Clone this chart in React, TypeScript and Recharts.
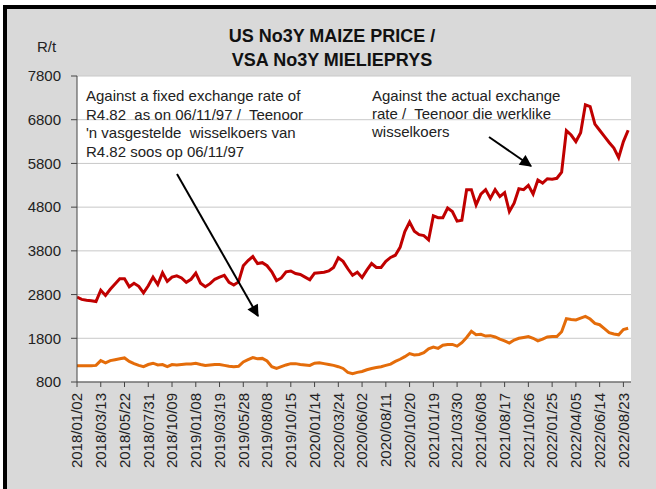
import { CartesianGrid, Line, LineChart, XAxis, YAxis } from 'recharts';

// tick labels on the date axis, one every 5 points
const dateLabels = [
  '2018/01/02', '2018/03/13', '2018/05/22', '2018/07/31', '2018/10/09', '2019/01/08',
  '2019/03/19', '2019/05/28', '2019/08/08', '2019/10/15', '2020/01/14', '2020/03/24',
  '2020/06/02', '2020/08/11', '2020/10/20', '2021/01/19', '2021/03/30', '2021/06/08',
  '2021/08/17', '2021/10/26', '2022/01/25', '2022/04/05', '2022/06/14', '2022/08/23',
];

const priceTicks = [800, 1800, 2800, 3800, 4800, 5800, 6800, 7800];

// R/t against the actual exchange rate
const actualRate = [
  2740, 2690, 2670, 2660, 2640, 2900, 2780, 2920, 3040, 3160,
  3160, 2980, 3060, 2990, 2840, 3000, 3200, 3030, 3300, 3100,
  3200, 3230, 3180, 3080, 3150, 3290, 3060, 2980, 3050, 3150,
  3200, 3240, 3080, 3020, 3090, 3460, 3580, 3670, 3510, 3530,
  3460, 3320, 3120, 3180, 3320, 3340, 3280, 3260, 3200, 3140,
  3290, 3300, 3310, 3340, 3420, 3640, 3560, 3390, 3240, 3310,
  3190, 3360, 3510, 3420, 3420, 3560, 3650, 3700, 3880, 4240,
  4460, 4250, 4170, 4150, 4050, 4600, 4560, 4560, 4780, 4700,
  4480, 4500, 5200, 5200, 4850, 5100, 5200, 5000, 5200, 5040,
  5130, 4700, 4890, 5220, 5200, 5300, 5100, 5420, 5350, 5450,
  5440, 5460, 5600, 6550, 6450, 6300, 6500, 7140, 7100, 6700,
  6560, 6420, 6280, 6150, 5930, 6300, 6560,
];

// R/t against the fixed R4.82 exchange rate
const fixedRate = [
  1170, 1170, 1170, 1170, 1180, 1290, 1240, 1290, 1310, 1330,
  1350, 1270, 1220, 1180, 1150, 1200, 1230, 1190, 1200, 1150,
  1200, 1190, 1200, 1210, 1210, 1230, 1200, 1180, 1190, 1200,
  1200, 1180, 1160, 1150, 1160, 1260, 1310, 1360, 1330, 1340,
  1280, 1150, 1110, 1150, 1190, 1220, 1220, 1200, 1190, 1180,
  1230, 1240, 1220, 1200, 1180, 1150, 1110, 1020, 990, 1020,
  1040, 1080, 1110, 1130, 1150, 1180, 1210, 1270, 1320, 1380,
  1450, 1420, 1430, 1470, 1560, 1600, 1570, 1640, 1660, 1660,
  1620, 1700, 1820, 1960, 1880, 1890, 1850, 1860, 1830, 1780,
  1740, 1690, 1760, 1800, 1820, 1840, 1800, 1740, 1780, 1830,
  1840, 1840, 1950, 2250, 2230, 2220, 2260, 2300, 2240, 2140,
  2110, 2020, 1930, 1900, 1880, 2000, 2030,
];

const data = actualRate.map((v, i) => ({ week: i, actual: v, fixed: fixedRate[i] }));
const xTicks = dateLabels.map((_, k) => k * 5);

const font = '"Liberation Sans", Arial, sans-serif';

function DateTick({ x, y, payload }: any) {
  return (
    <text
      x={x}
      y={y}
      transform={`rotate(-90 ${x} ${y})`}
      textAnchor="end"
      dy="0.35em"
      fontSize={15}
      fill="#222"
      fontFamily={font}
    >
      {dateLabels[payload.value / 5]}
    </text>
  );
}

function Notes() {
  const txt = { fontSize: 15, fill: '#222', fontFamily: font };
  return (
    <svg width={656} height={489} style={{ position: 'absolute', left: 0, top: 0, pointerEvents: 'none' }}>
      <defs>
        <marker id="head" viewBox="0 0 10 10" refX="9" refY="5" markerWidth="7" markerHeight="6" orient="auto">
          <path d="M0,0 L10,5 L0,10 z" fill="#000" />
        </marker>
      </defs>
      <text x={332} y={42} textAnchor="middle" fontSize={18} fontWeight="bold" fill="#111" fontFamily={font}>
        US No3Y MAIZE PRICE /
      </text>
      <text x={332} y={66} textAnchor="middle" fontSize={18} fontWeight="bold" fill="#111" fontFamily={font}>
        VSA No3Y MIELIEPRYS
      </text>
      <text x={37} y={52} fontSize={15} fill="#222" fontFamily={font}>R/t</text>
      <text {...txt} x={86} y={101}>Against a fixed exchange rate of</text>
      <text {...txt} x={86} y={120} style={{ whiteSpace: 'pre' }}>R4.82  as on 06/11/97 /  Teenoor</text>
      <text {...txt} x={86} y={138} style={{ whiteSpace: 'pre' }}>'n vasgestelde  wisselkoers van</text>
      <text {...txt} x={86} y={157}>R4.82 soos op 06/11/97</text>
      <text {...txt} x={372} y={101}>Against the actual exchange</text>
      <text {...txt} x={372} y={119} style={{ whiteSpace: 'pre' }}>rate /  Teenoor die werklike</text>
      <text {...txt} x={372} y={137}>wisselkoers</text>
      <line x1={177} y1={174} x2={258} y2={316} stroke="#000" strokeWidth={2} markerEnd="url(#head)" />
      <line x1={489} y1={137} x2={531} y2={166} stroke="#000" strokeWidth={2} markerEnd="url(#head)" />
    </svg>
  );
}

export default function App() {
  return (
    <div style={{ position: 'absolute', left: 0, top: 0, width: 656, height: 489, overflow: 'hidden', background: '#fff' }}>
      <div
        style={{
          position: 'absolute',
          left: 3,
          top: 5,
          width: 720,
          height: 600,
          boxSizing: 'border-box',
          background: '#d9d9d9',
          borderLeft: '4px solid #000',
          borderTop: '4px solid #000',
        }}
      />
      <div style={{ position: 'absolute', left: 0, top: 0 }}>
        <LineChart width={656} height={489} data={data} margin={{ top: 76, right: 25, bottom: 0, left: 0 }}>
          <CartesianGrid vertical={false} stroke="#c8c8c8" fill="#fff" />
          <XAxis
            dataKey="week"
            type="number"
            domain={[0, 116.6]}
            ticks={xTicks}
            tick={<DateTick />}
            tickSize={5}
            tickMargin={6}
            interval={0}
            height={107}
            stroke="#444"
            allowDataOverflow
          />
          <XAxis xAxisId="top" orientation="top" dataKey="week" type="number" domain={[0, 116.6]} height={0} tick={false} tickLine={false} stroke="#555" />
          <YAxis
            domain={[800, 7800]}
            ticks={priceTicks}
            width={77}
            tickSize={6}
            tickMargin={10}
            stroke="#444"
            tick={{ fontSize: 15, fill: '#222', fontFamily: font }}
          />
          <YAxis yAxisId="right" orientation="right" domain={[800, 7800]} width={0} tick={false} tickLine={false} stroke="#555" />
          <Line dataKey="actual" stroke="#c00000" strokeWidth={3} dot={false} isAnimationActive={false} />
          <Line dataKey="fixed" stroke="#e46c0a" strokeWidth={3} dot={false} isAnimationActive={false} />
        </LineChart>
      </div>
      <Notes />
    </div>
  );
}
